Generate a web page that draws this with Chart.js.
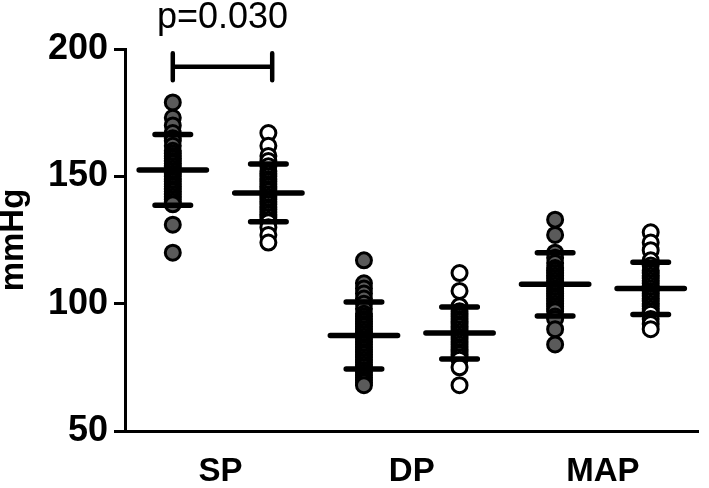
<!DOCTYPE html>
<html><head><meta charset="utf-8">
<script src="https://cdn.jsdelivr.net/npm/chart.js@4/dist/chart.umd.min.js"></script>
<style>html,body{margin:0;padding:0;background:#fff}#wrap{width:709px;height:488px;position:relative}</style>
</head><body><div id="wrap"><canvas id="c"></canvas></div>
<script>
// ---- data ----
const categories = ['SP', 'DP', 'MAP'];
const yTicks = [50, 100, 150, 200];
const yTitle = 'mmHg';

// individual values, filled (grey) group
const spFilled  = [179, 173, 170, 167, 165, 164, 162, 160, 159, 158, 157, 156, 155, 154, 153, 152, 151, 150, 149, 148, 147, 146, 145, 144, 143, 142, 141, 140, 139, 131, 120];
const dpFilled  = [117, 108, 106, 104, 102, 100, 98, 96, 95, 94, 93, 92, 91, 90, 89, 88, 87, 86, 85, 84, 83, 82, 81, 80, 79, 78, 77, 76, 75, 74, 73, 72, 71, 70, 69, 68];
const mapFilled = [133, 127, 120, 118, 116, 114, 113, 112, 111, 110, 109, 108, 107, 106, 105, 104, 103, 102, 101, 100, 99, 98, 97, 95, 94, 90, 84];
// individual values, open group
const spOpen  = [167, 162, 158, 156, 154, 152, 151, 150, 149, 148, 147, 146, 145, 144, 143, 142, 141, 140, 139, 138, 137, 136, 135, 134, 133, 132, 130, 127, 124];
const dpOpen  = [112, 105, 99, 97, 96, 95, 94, 93, 92, 91, 90, 89, 88, 87, 86, 85, 84, 83, 82, 81, 80, 79, 78, 75, 68];
const mapOpen = [128, 124, 121, 117, 115, 113, 112, 111, 110, 109, 108, 107, 106, 105, 104, 103, 102, 101, 100, 99, 98, 97, 96, 94, 92, 90];

// mean and SD per category
const meanFilled = [152.5, 87.5, 107.6];
const sdFilled   = [13.9, 13.2, 12.4];
const meanOpen   = [143.5, 88.5, 106.0];
const sdOpen     = [11.3, 10.2, 10.3];

// significance annotation (SP filled vs SP open)
const pLabel = 'p=0.030';
const bracketValue = 193;

// ---- layout / style constants ----
const OFF = 0.25, MEAN_HALF = 0.176, CAP_HALF = 0.093;
const BR_LEFT = -0.25, BR_RIGHT = 0.27, BR_LEG = 5.3, P_TEXT_Y = 208.3;

const filledSets = [spFilled, dpFilled, mapFilled];
const openSets = [spOpen, dpOpen, mapOpen];

function dots(sets, off) {
  const out = [];
  sets.forEach((vals, i) => vals.forEach(v => out.push({x: i + off, y: v})));
  return out;
}
function meanCaps(means, sds, off) {
  const out = [];
  means.forEach((m, i) => {
    const cx = i + off;
    out.push({x: cx - MEAN_HALF, y: m}, {x: cx + MEAN_HALF, y: m}, {x: cx, y: null});
    out.push({x: cx - CAP_HALF, y: m + sds[i]}, {x: cx + CAP_HALF, y: m + sds[i]}, {x: cx, y: null});
    out.push({x: cx - CAP_HALF, y: m - sds[i]}, {x: cx + CAP_HALF, y: m - sds[i]}, {x: cx, y: null});
  });
  return out;
}
function vBars(means, sds, off) {
  const out = [];
  means.forEach((m, i) => {
    const cx = i + off;
    out.push({x: cx, y: m + sds[i]}, {x: cx, y: m - sds[i]}, {x: cx, y: null});
  });
  return out;
}
const bracket = [
  {x: BR_LEFT, y: bracketValue + BR_LEG}, {x: BR_LEFT, y: bracketValue - BR_LEG}, {x: BR_LEFT, y: null},
  {x: BR_LEFT, y: bracketValue}, {x: BR_RIGHT, y: bracketValue}, {x: BR_RIGHT, y: null},
  {x: BR_RIGHT, y: bracketValue + BR_LEG}, {x: BR_RIGHT, y: bracketValue - BR_LEG}
];

const lineStyle = (w, cap) => ({showLine: true, pointRadius: 0, borderColor: '#000', borderWidth: w, spanGaps: false, borderCapStyle: cap || 'butt', fill: false});

const pPlugin = {
  id: 'pval',
  afterDatasetsDraw(chart) {
    const {ctx, scales: {x, y}} = chart;
    const cx = (x.getPixelForValue(BR_LEFT) + x.getPixelForValue(BR_RIGHT)) / 2;
    ctx.save();
    ctx.font = '36px "Liberation Sans", Arial, sans-serif';
    ctx.fillStyle = '#000';
    ctx.textAlign = 'center';
    ctx.textBaseline = 'alphabetic';
    ctx.fillText(pLabel, cx, y.getPixelForValue(P_TEXT_Y));
    ctx.restore();
  }
};

new Chart(document.getElementById('c'), {
  type: 'scatter',
  data: {
    datasets: [
      Object.assign({label: 'sdv-f', data: vBars(meanFilled, sdFilled, -OFF), order: 5}, lineStyle(3.5)),
      Object.assign({label: 'sdv-o', data: vBars(meanOpen, sdOpen, OFF), order: 5}, lineStyle(3.5)),
      {label: 'filled', data: dots(filledSets, -OFF), order: 3, pointRadius: 7.5, pointBackgroundColor: '#5a5a5a', pointBorderColor: '#000', pointBorderWidth: 3, showLine: false},
      {label: 'open', data: dots(openSets, OFF), order: 3, pointRadius: 7.5, pointBackgroundColor: '#fff', pointBorderColor: '#000', pointBorderWidth: 3, showLine: false},
      Object.assign({label: 'mean-f', data: meanCaps(meanFilled, sdFilled, -OFF), order: 1}, lineStyle(5.5, 'round')),
      Object.assign({label: 'mean-o', data: meanCaps(meanOpen, sdOpen, OFF), order: 1}, lineStyle(5.5, 'round')),
      Object.assign({label: 'bracket', data: bracket, order: 1}, lineStyle(4.5, 'round'))
    ]
  },
  options: {
    responsive: true,
    maintainAspectRatio: false,
    animation: false,
    events: [],
    layout: {padding: {top: 49, right: 2, left: 0, bottom: 0}},
    plugins: {legend: {display: false}, tooltip: {enabled: false}},
    scales: {
      x: {
        type: 'linear',
        min: -0.5, max: 2.5,
        afterBuildTicks: s => { s.ticks = categories.map((c, i) => ({value: i})); },
        afterFit: s => { s.height = 57; },
        ticks: {
          callback: v => categories[Math.round(v)],
          color: '#000',
          font: {family: '"Liberation Sans", Arial, sans-serif', weight: 'bold', size: 33},
          padding: 21,
          maxRotation: 0, autoSkip: false
        },
        grid: {display: true, drawOnChartArea: false, drawTicks: false, tickLength: 0},
        border: {display: true, color: '#000', width: 3}
      },
      y: {
        type: 'linear',
        min: 50, max: 200,
        afterBuildTicks: s => { s.ticks = yTicks.map(v => ({value: v})); },
        afterFit: s => { s.width = 125; },
        ticks: {
          color: '#000',
          font: {family: '"Liberation Sans", Arial, sans-serif', weight: 'bold', size: 36},
          padding: 6
        },
        grid: {display: true, drawOnChartArea: false, drawTicks: true, tickLength: 11, tickWidth: 3, tickColor: '#000', color: '#000'},
        border: {display: true, color: '#000', width: 3},
        title: {display: true, text: yTitle, color: '#000', font: {family: '"Liberation Sans", Arial, sans-serif', weight: 'bold', size: 33}, padding: {top: -6, bottom: 0}}
      }
    }
  },
  plugins: [pPlugin]
});
</script>
</body></html>
